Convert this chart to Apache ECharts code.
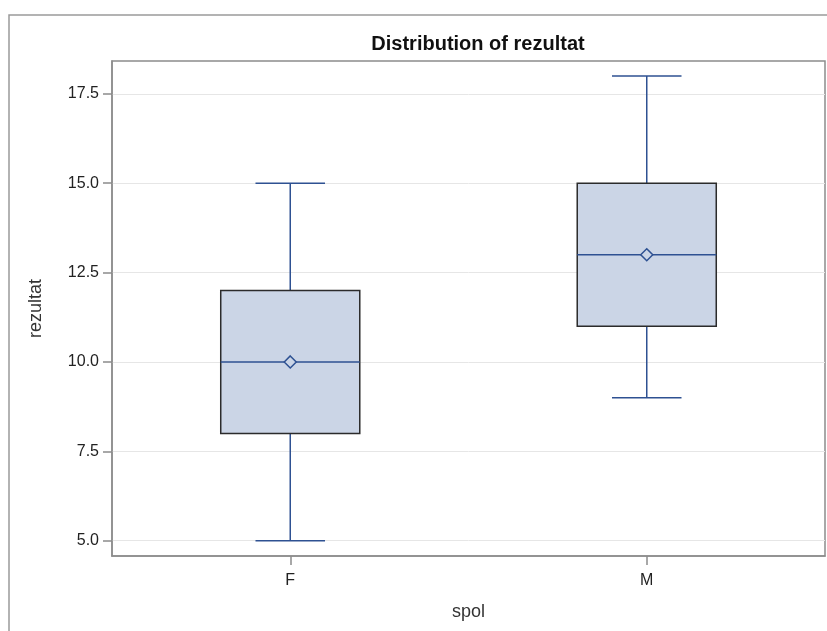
<!DOCTYPE html>
<html>
<head>
<meta charset="utf-8">
<script src="https://cdn.jsdelivr.net/npm/echarts@6/dist/echarts.min.js"></script>
<style>
  html, body { margin: 0; padding: 0; background: #fff; }
  #chart { width: 827px; height: 631px; }
</style>
</head>
<body>
<div id="chart"></div>
<script>
// kategorie (spol)
var categories = ['F', 'M'];
// statystyki pudełek
var minVals = [5, 9];
var q1Vals = [8, 11];
var medianVals = [10, 13];
var q3Vals = [12, 15];
var maxVals = [15, 18];
var meanVals = [10, 13];
// etykiety osi Y
var yTicks = [5, 7.5, 10, 12.5, 15, 17.5];

var boxData = categories.map(function (c, i) {
    return [i, minVals[i], q1Vals[i], medianVals[i], q3Vals[i], maxVals[i], meanVals[i]];
});

var lineColor = '#2E5192';
var boxFill = '#CBD5E6';
var boxBorder = '#2b2b2b';

function renderBox(params, api) {
    var x = api.value(0);
    var pMin = api.coord([x, api.value(1)]);
    var pQ1 = api.coord([x, api.value(2)]);
    var pMed = api.coord([x, api.value(3)]);
    var pQ3 = api.coord([x, api.value(4)]);
    var pMax = api.coord([x, api.value(5)]);
    var pMean = api.coord([x, api.value(6)]);
    var band = api.size([1, 0])[0];
    var half = band * 0.195;
    var cap = half / 2;
    var cx = pMed[0];
    var d = 6;
    var lineStyle = {stroke: lineColor, lineWidth: 1.5, fill: null};
    return {
        type: 'group',
        children: [
            {type: 'line', shape: {x1: cx, y1: pQ1[1], x2: cx, y2: pMin[1]}, style: lineStyle},
            {type: 'line', shape: {x1: cx, y1: pQ3[1], x2: cx, y2: pMax[1]}, style: lineStyle},
            {type: 'line', shape: {x1: cx - cap, y1: pMin[1], x2: cx + cap, y2: pMin[1]}, style: lineStyle},
            {type: 'line', shape: {x1: cx - cap, y1: pMax[1], x2: cx + cap, y2: pMax[1]}, style: lineStyle},
            {
                type: 'rect',
                shape: {x: cx - half, y: pQ3[1], width: half * 2, height: pQ1[1] - pQ3[1]},
                style: {fill: boxFill, stroke: boxBorder, lineWidth: 1.5}
            },
            {type: 'line', shape: {x1: cx - half, y1: pMed[1], x2: cx + half, y2: pMed[1]}, style: lineStyle},
            {
                type: 'polygon',
                shape: {points: [[cx, pMean[1] - d], [cx + d, pMean[1]], [cx, pMean[1] + d], [cx - d, pMean[1]]]},
                style: {fill: boxFill, stroke: lineColor, lineWidth: 1.5}
            }
        ]
    };
}

var chart = echarts.init(document.getElementById('chart'));
chart.setOption({
    animation: false,
    backgroundColor: '#fff',
    textStyle: {fontFamily: 'Liberation Sans, Arial, sans-serif'},
    graphic: [{
        type: 'rect',
        shape: {x: 9, y: 15, width: 840, height: 660},
        style: {fill: null, stroke: '#9a9a9a', lineWidth: 1.5},
        silent: true
    }],
    title: {
        text: 'Distribution of rezultat',
        left: 473,
        top: 29,
        textAlign: 'center',
        textStyle: {fontSize: 20, fontWeight: 'bold', color: '#111', fontFamily: 'Liberation Sans, Arial, sans-serif'}
    },
    grid: {
        left: 112,
        right: 2,
        top: 61,
        bottom: 75,
        show: true,
        borderColor: '#8c8c8c',
        borderWidth: 1.5,
        containLabel: false
    },
    xAxis: {
        type: 'category',
        data: categories,
        boundaryGap: true,
        name: 'spol',
        nameLocation: 'middle',
        nameGap: 47,
        nameTextStyle: {fontSize: 18, color: '#333'},
        axisLine: {lineStyle: {color: '#8c8c8c', width: 1.5}},
        axisTick: {show: true, alignWithLabel: true, interval: 0, length: 9, lineStyle: {color: '#8c8c8c', width: 1.5}},
        axisLabel: {fontSize: 16, color: '#222', margin: 17},
        splitLine: {show: false}
    },
    yAxis: {
        type: 'value',
        min: 4.57,
        max: 18.42,
        name: 'rezultat',
        nameLocation: 'middle',
        nameRotate: 90,
        nameGap: 67,
        nameTextStyle: {fontSize: 18, color: '#333'},
        axisLine: {show: true, lineStyle: {color: '#8c8c8c', width: 1.5}},
        axisTick: {show: true, length: 9, customValues: yTicks, lineStyle: {color: '#8c8c8c', width: 1.5}},
        axisLabel: {
            fontSize: 16, color: '#222', margin: 13, customValues: yTicks,
            formatter: function (v) { return v.toFixed(1); }
        },
        splitLine: {show: true, lineStyle: {color: '#e6e6e6', width: 1}}
    },
    series: [{
        type: 'custom',
        renderItem: renderBox,
        encode: {x: 0, y: [1, 2, 3, 4, 5, 6]},
        data: boxData,
        z: 3
    }]
});
</script>
</body>
</html>
